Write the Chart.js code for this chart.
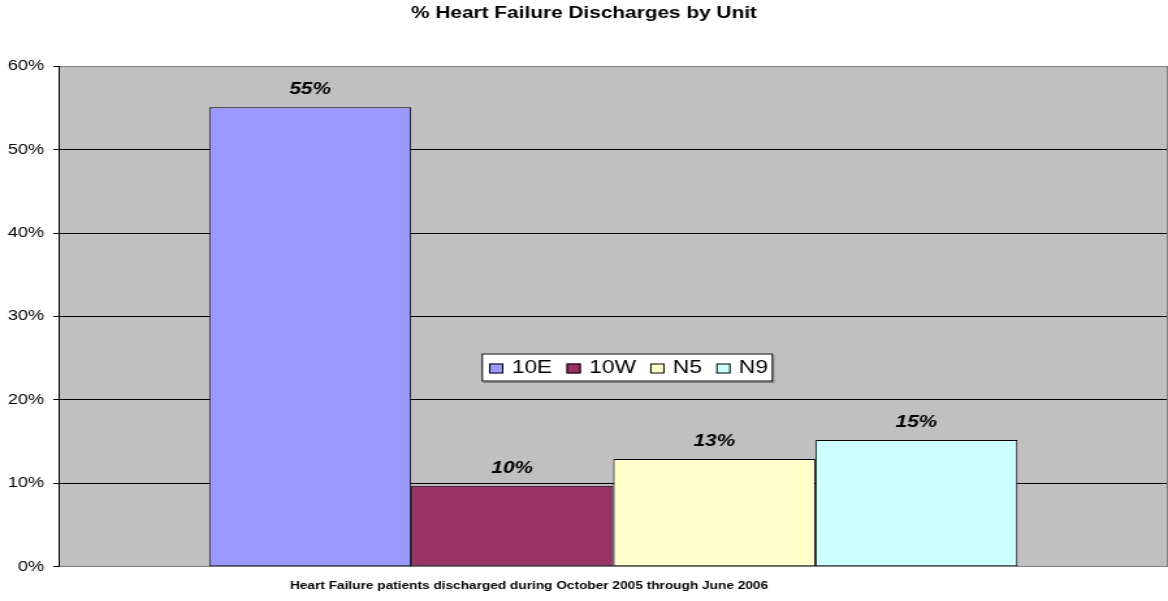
<!DOCTYPE html>
<html>
<head>
<meta charset="utf-8">
<script src="https://cdn.jsdelivr.net/npm/chart.js@4/dist/chart.umd.min.js"></script>
<style>
  html, body { margin: 0; padding: 0; background: #fff; overflow: hidden; }
  #wrap { width: 898px; height: 601px; transform: scaleX(1.30067); transform-origin: 0 0; }
</style>
</head>
<body>
<div id="wrap"><canvas id="c" width="898" height="601"></canvas></div>
<script>
// ---- data ----
const categories = [''];
const seriesNames = ['10E', '10W', 'N5', 'N9'];
const seriesValues = [0.551, 0.097, 0.129, 0.152];
const dataLabels = ['55%', '10%', '13%', '15%'];
const yTickValues = [0, 0.1, 0.2, 0.3, 0.4, 0.5, 0.6];
const chartTitle = '% Heart Failure Discharges by Unit';
const xAxisTitle = 'Heart Failure patients discharged during October 2005 through June 2006';

// ---- styles ----
const seriesColors = ['#9999FF', '#993366', '#FFFFCC', '#CCFFFF'];
const FONT = "'Liberation Sans', Arial, sans-serif";

const datasets = seriesNames.map((name, i) => ({
  label: name,
  data: [seriesValues[i]],
  backgroundColor: seriesColors[i],
  borderColor: '#000000',
  borderWidth: 1,
  borderSkipped: false,
  barPercentage: 1.0,
  categoryPercentage: 0.7286
}));

const extras = {
  id: 'extras',
  beforeDraw(chart) {
    const { ctx, chartArea: a } = chart;
    ctx.save();
    ctx.fillStyle = '#C0C0C0';
    ctx.fillRect(a.left, a.top, a.right - a.left, a.bottom - a.top);
    ctx.restore();
  },
  afterDatasetsDraw(chart) {
    const { ctx } = chart;
    ctx.save();
    ctx.fillStyle = '#000';
    ctx.font = 'italic bold 16px ' + FONT;
    ctx.textAlign = 'center';
    ctx.textBaseline = 'middle';
    chart.data.datasets.forEach((ds, i) => {
      const el = chart.getDatasetMeta(i).data[0];
      ctx.fillText(dataLabels[i], el.x, el.y - 17.5);
    });
    ctx.restore();
  },
  afterDraw(chart) {
    const { ctx, chartArea: a } = chart;
    ctx.save();
    // right border of plot area
    ctx.strokeStyle = '#808080';
    ctx.lineWidth = 1;
    ctx.beginPath();
    ctx.moveTo(a.right - 0.5, a.top);
    ctx.lineTo(a.right - 0.5, a.bottom);
    ctx.stroke();

    // x axis title
    ctx.fillStyle = '#000';
    ctx.font = 'bold 10.5px ' + FONT;
    ctx.textAlign = 'center';
    ctx.textBaseline = 'middle';
    ctx.fillText(xAxisTitle, 406.7, 586);

    // legend
    const lx = 370.3, ly = 353.5, lw = 224, lh = 28;
    ctx.fillStyle = '#808080';
    ctx.fillRect(lx + 1, ly + 1.5, lw, lh);
    ctx.fillStyle = '#FFFFFF';
    ctx.fillRect(lx, ly, lw, lh);
    ctx.strokeStyle = '#000';
    ctx.lineWidth = 1;
    ctx.strokeRect(lx + 0.5, ly + 0.5, lw - 1, lh - 1);
    ctx.font = '17.5px ' + FONT;
    ctx.textAlign = 'left';
    ctx.textBaseline = 'middle';
    let x = 376;
    const cy = ly + 15;
    chart.data.datasets.forEach((ds, i) => {
      ctx.fillStyle = ds.backgroundColor;
      ctx.fillRect(x, cy - 5, 11, 10);
      ctx.strokeStyle = '#000';
      ctx.strokeRect(x + 0.5, cy - 5 + 0.5, 10, 9);
      ctx.fillStyle = '#000';
      ctx.fillText(ds.label, x + 17.4, cy);
      x += 17.4 + ctx.measureText(ds.label).width + 11;
    });
    ctx.restore();
  }
};

new Chart(document.getElementById('c'), {
  type: 'bar',
  data: { labels: categories, datasets },
  options: {
    responsive: false,
    animation: false,
    devicePixelRatio: 1,
    layout: { padding: 0 },
    plugins: {
      legend: { display: false },
      tooltip: { enabled: false },
      title: {
        display: true,
        text: chartTitle,
        color: '#000',
        font: { family: FONT, size: 16, weight: 'bold' },
        padding: { top: 4.4, bottom: 42.7 }
      }
    },
    scales: {
      x: {
        grid: { display: false, drawTicks: false, tickLength: 0 },
        border: { display: true, color: '#808080', width: 1 },
        ticks: { display: false },
        afterFit(scale) { scale.height = 34.3; }
      },
      y: {
        min: 0,
        max: 0.6,
        afterBuildTicks(scale) { scale.ticks = yTickValues.map(v => ({ value: v })); },
        afterFit(scale) { scale.width = 45; },
        ticks: {
          color: '#000',
          padding: 7,
          font: { family: FONT, size: 14 },
          callback: v => Math.round(v * 100) + '%'
        },
        grid: {
          color: ctx => (ctx.tick && (Math.abs(ctx.tick.value - 0.6) < 1e-9 || ctx.tick.value === 0)) ? '#808080' : '#000000',
          tickColor: '#000000',
          tickLength: 4,
          lineWidth: 1
        },
        border: { display: true, color: '#000000', width: 1 }
      }
    }
  },
  plugins: [extras]
});
</script>
</body>
</html>
